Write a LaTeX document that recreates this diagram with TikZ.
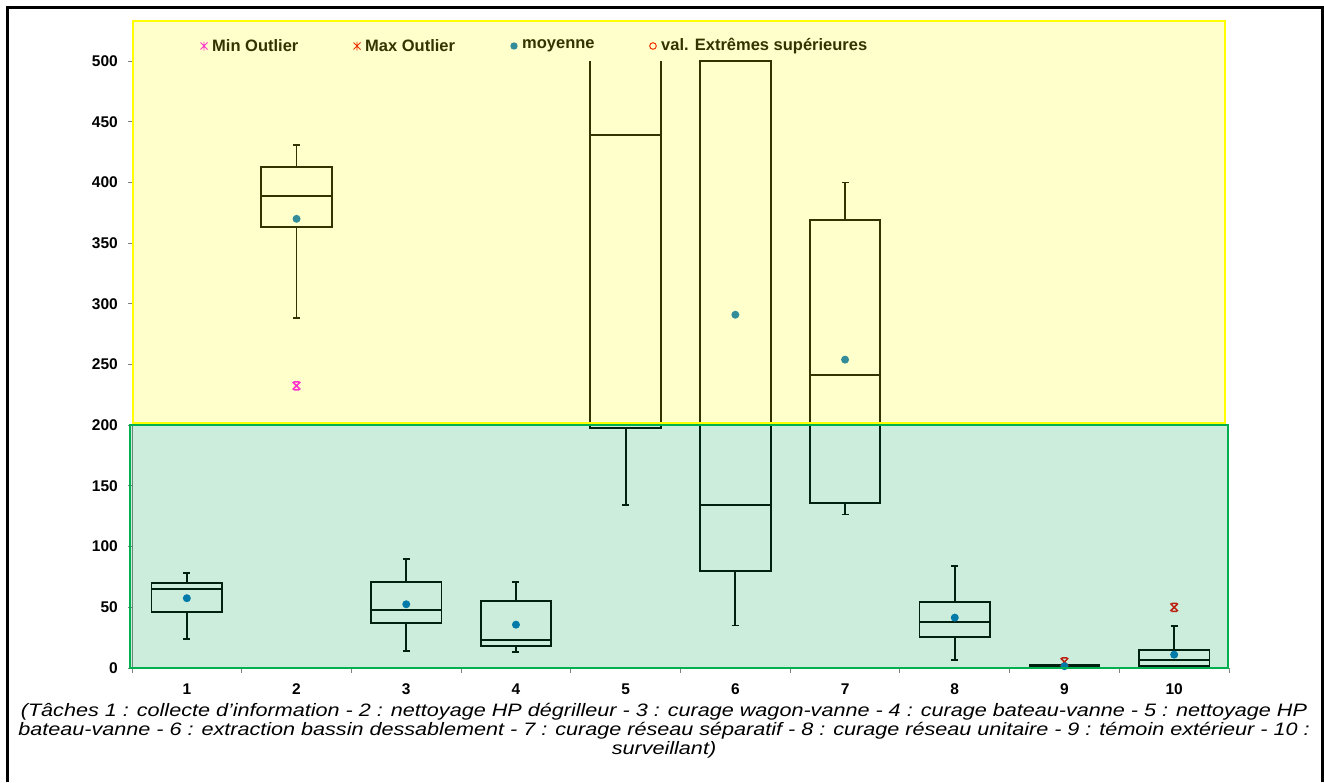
\documentclass[tikz,border=0pt]{standalone}
\usepackage{fontspec}
\setmainfont{Liberation Sans}
\definecolor{ovyel}{RGB}{255,255,0}
\definecolor{ovgrn}{RGB}{0,165,80}
\definecolor{grnline}{RGB}{0,176,80}
\definecolor{meanc}{RGB}{0,112,192}
\definecolor{minc}{RGB}{255,0,255}
\definecolor{maxc}{RGB}{235,0,0}
\definecolor{axisgray}{RGB}{128,128,128}
\tikzset{
  bx/.style={draw=black, line width=1.8pt},
  meandot/.style={fill=meanc, draw=none},
  axln/.style={draw=axisgray, line width=1pt},
  ticklab/.style={font=\fontsize{15.5}{18}\selectfont\bfseries, text=black, inner sep=0pt},
  legtxt/.style={font=\fontsize{16.5}{19}\selectfont\bfseries, text=black, anchor=west, inner sep=0pt},
  captxt/.style={font=\fontsize{18}{19}\selectfont\itshape, align=center, inner sep=0pt},
}
\newcommand\drawbp[6]{%
  \draw[bx] (#1-0.322,#3) rectangle (#1+0.322,#5);
  \draw[bx] (#1-0.322,#4) -- (#1+0.322,#4);
  \draw[bx] (#1,#5) -- (#1,#6) ++(-3.5pt,0) -- ++(7pt,0);
  \draw[bx] (#1,#3) -- (#1,#2) ++(-3.5pt,0) -- ++(7pt,0);
}
\newcommand\astmk[3]{%
  \draw[#3, line width=1.5pt] (#1,#2) ++(-3.8pt,-3.8pt) -- ++(7.6pt,7.6pt)
     (#1,#2) ++(-3.8pt,3.8pt) -- ++(7.6pt,-7.6pt)
     (#1,#2) ++(-2.6pt,-4pt) -- ++(5.2pt,0)
     (#1,#2) ++(-2.6pt,4pt) -- ++(5.2pt,0);
}
\newcommand\legast[3]{%
  \draw[#3, line width=0.8pt] (#1,#2) ++(-3.5pt,-3.5pt) -- ++(7pt,7pt)
     (#1,#2) ++(-3.5pt,3.5pt) -- ++(7pt,-7pt)
     (#1,#2) ++(0,-4.5pt) -- ++(0,9pt);
}
\begin{document}
\begin{tikzpicture}[x=1pt, y=-1pt]
\useasboundingbox (0,0) rectangle (1324,782);
\fill[white] (0,0) rectangle (1324,782);
% y axis
\draw[axln] (132,61) -- (132,668);
\foreach \v in {0,50,...,500} {
  \draw[axln] (128,{668-1.214*\v}) -- (132,{668-1.214*\v});
  \node[ticklab, anchor=east] (yl\v) at (118,{668-1.214*\v}) {\v};
}
% x axis
\draw[axln] (132,668) -- (1229,668);
\foreach \k in {0,...,10} {
  \draw[axln] ({132+109.7*\k},668) -- ({132+109.7*\k},673);
}
\foreach \k in {1,...,10} {
  \node[ticklab] (xl\k) at ({132+109.7*(\k-0.5)},689) {\k};
}
% plot data
\begin{scope}[x=109.7pt, y=1.214pt, shift={(132pt,-668pt)}]
  \drawbp{0.5}{24}{46}{65}{70}{78}
  \drawbp{1.5}{288}{363}{389}{413}{431}
  \drawbp{2.5}{14}{37.3}{48}{70.8}{89.8}
  \drawbp{3.5}{13.2}{18}{22.8}{55.4}{70.8}
  % box 5 (clipped at 500)
  \draw[bx] (4.5-0.322,500) -- (4.5-0.322,197.5) -- (4.5+0.322,197.5) -- (4.5+0.322,500);
  \draw[bx] (4.5-0.322,439) -- (4.5+0.322,439);
  \draw[bx] (4.5,197.5) -- (4.5,134) ++(-3.5pt,0) -- ++(7pt,0);
  % box 6
  \draw[bx] (5.5-0.322,80) rectangle (5.5+0.322,500);
  \draw[bx] (5.5-0.322,134) -- (5.5+0.322,134);
  \draw[bx] (5.5,80) -- (5.5,35) ++(-3.5pt,0) -- ++(7pt,0);
  \drawbp{6.5}{126.5}{136}{241.5}{369}{400}
  \drawbp{7.5}{6.3}{25.8}{37.9}{54.4}{84.3}
  % box 9
  \draw[bx, line width=3pt] (8.5-0.322,2) -- (8.5+0.322,2);
  \drawbp{9.5}{0.3}{1.4}{6.8}{15}{34.6}
  % outliers
  \astmk{1.5}{232.5}{minc}
  \astmk{8.5}{5}{maxc}
  \astmk{9.5}{50}{maxc}
  % means
  \foreach \c/\m in {0.5/57.5, 1.5/370, 2.5/52.5, 3.5/35.7, 5.5/291, 6.5/254, 7.5/41.5, 8.5/1.5, 9.5/11}
    \fill[meandot] (\c,\m) circle[radius=4pt];
\end{scope}
% legend
\legast{204}{46}{minc}
\node[legtxt] (lmin) at (212,46) {Min Outlier};
\legast{357}{46}{maxc}
\node[legtxt] (lmax) at (365,46) {Max Outlier};
\fill[meandot] (514,46) circle[radius=3.7pt];
\node[legtxt] (lmoy) at (522,46) {moyenne};
\draw[maxc, line width=1pt] (653,46) circle[radius=3.3pt];
\node[legtxt] (lext) at (661,46) {val. Extrêmes supérieures};
% overlays
\fill[ovyel, fill opacity=0.2] (133,21) rectangle (1225,423);
\draw[ovyel, line width=2.5pt] (133,21) rectangle (1225,423);
\fill[ovgrn, fill opacity=0.2] (130,425) rectangle (1228,668);
\draw[grnline, line width=2pt] (130,425) rectangle (1228,668);
% caption
\begin{scope}[shift={(664,731)}, xscale=1.2, transform shape]
\node[captxt] (cap) at (0,0) {(Tâches 1 : collecte d’information - 2 : nettoyage HP dégrilleur - 3 : curage wagon-vanne - 4 : curage bateau-vanne - 5 : nettoyage HP\\
bateau-vanne - 6 : extraction bassin dessablement - 7 : curage réseau séparatif - 8 : curage réseau unitaire - 9 : témoin extérieur - 10 :\\
surveillant)};
\end{scope}
% frame
\draw[black, line width=3pt] (7,782) -- (7,7) -- (1322,7) -- (1322,782);
\end{tikzpicture}
\end{document}
